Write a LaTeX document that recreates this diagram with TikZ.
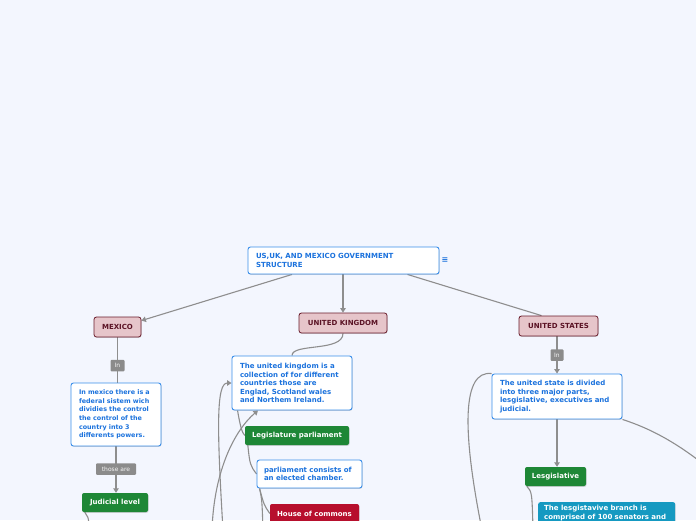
\documentclass[tikz,border=0pt]{standalone}
\usepackage{fontspec}
\setmainfont{DejaVu Sans}
\usetikzlibrary{arrows.meta,shadows}
\definecolor{bg}{HTML}{F3F6FE}
\definecolor{bluetxt}{HTML}{1B72DD}
\definecolor{blueline}{HTML}{3A8EEA}
\definecolor{pinkfill}{HTML}{E6C5CA}
\definecolor{pinkline}{HTML}{6A1C2C}
\definecolor{pinktxt}{HTML}{5A1224}
\definecolor{greenfill}{HTML}{1E8736}
\definecolor{redfill}{HTML}{B70F2D}
\definecolor{tealfill}{HTML}{1599C1}
\definecolor{labelgray}{HTML}{8B8B8B}
\definecolor{conngray}{HTML}{8E8E8E}
\pgfdeclarelayer{background}
\pgfsetlayers{background,main}
\begin{document}
\begin{tikzpicture}[x=1pt,y=-1pt,
  shad/.style={drop shadow={shadow xshift=0.5pt,shadow yshift=-0.8pt,opacity=0.25,fill=black!60}},
  desc/.style={shad,rounded corners=2.5pt,draw=blueline,line width=0.9pt,fill=white,text=bluetxt,
    font=\bfseries\fontsize{7}{8.6}\selectfont,align=left,inner xsep=8pt,inner ysep=0pt},
  country/.style={shad,rounded corners=2.5pt,draw=pinkline,line width=0.8pt,fill=pinkfill,text=pinktxt,
    font=\bfseries\fontsize{7}{8}\selectfont,inner sep=0pt,minimum height=20pt},
  topic/.style={shad,rounded corners=2pt,fill=greenfill,text=white,
    font=\bfseries\fontsize{7}{8}\selectfont,inner sep=0pt,minimum height=19pt},
  redbox/.style={topic,fill=redfill},
  tealbox/.style={shad,rounded corners=2pt,fill=tealfill,text=white,align=left,
    font=\bfseries\fontsize{7}{9}\selectfont,inner xsep=6pt,inner ysep=3pt},
  lbl/.style={fill=labelgray,text=white!92!gray,rounded corners=1pt,
    font=\fontsize{6}{7}\selectfont,inner sep=0pt,minimum height=11.5pt},
  conn/.style={draw=conngray,line width=1.1pt},
  tip/.style={-{Triangle[length=4.5pt,width=5.5pt]}}
]
\useasboundingbox (0,0) rectangle (696,520);
\begin{pgfonlayer}{background}
\fill[bg] (0,0) rectangle (696,520);
\end{pgfonlayer}

% nodes
\node[desc,text width=175pt,minimum height=27pt] (root) at (343.5,260.5)
  {US,UK, AND MEXICO GOVERNMENT\\STRUCTURE};
\node[text=bluetxt,font=\bfseries\fontsize{8}{8}\selectfont,inner sep=0pt] (icon) at (445,260) {≡};

\node[country,minimum width=47pt] (mex) at (117.5,327) {MEXICO};
\node[country,minimum width=88pt] (uk) at (343,323) {UNITED KINGDOM};
\node[country,minimum width=79pt] (us) at (558.5,326) {UNITED STATES};

\node[desc,text width=74pt,inner xsep=8pt,minimum height=63pt,
  font=\bfseries\fontsize{6.4}{8.6}\selectfont] (mexdesc) at (116,414.5)
  {In mexico there is a\\federal sistem wich\\dividies the control\\the control of the\\country into 3\\differents powers.};
\node[topic,minimum width=66pt] (judicial) at (115,502.5) {Judicial level};

\node[desc,text width=104pt,minimum height=54pt] (ukdesc) at (292,383)
  {The united kingdom is a\\collection of for different\\countries those are\\Englad, Scotland wales\\and Northem Ireland.};
\node[topic,minimum width=104pt] (legis) at (297,435.5) {Legislature parliament};
\node[desc,text width=91pt,inner xsep=7pt,minimum height=28pt] (parl) at (309.5,474)
  {parliament consists of\\an elected chamber.};
\node[redbox,minimum width=89pt] (house) at (314.5,513.5) {House of commons};

\node[desc,text width=114pt,minimum height=45pt] (usdesc) at (557,396.5)
  {The united state is divided\\into three major parts,\\lesgislative, executives and\\judicial.};
\node[topic,minimum width=61pt] (lesg) at (555.5,476.5) {Lesgislative};
\node[tealbox,text width=125pt,anchor=north west] (teal) at (538,502)
  {The lesgistavive branch is\\comprised of 100 senators and};

% free ends
\coordinate (usR) at (725,482);
\coordinate (usL) at (482,530);
\coordinate (lesgD) at (533,530);
\coordinate (judD) at (90,530);
\coordinate (ukA) at (223,530);
\coordinate (ukB) at (212,530);
\coordinate (parlD) at (263,530);

\begin{pgfonlayer}{background}
\draw[conn,tip] ([xshift=-51.5pt]root.south) -- ([yshift=-4pt]mex.north east);
\draw[conn,tip] (root.south -| uk.north) -- (uk.north);
\draw[conn] ([xshift=64pt]root.south) -- ([xshift=-17pt]us.north);
\draw[conn] (mex.south) -- (mex.south |- mexdesc.north);
\draw[conn,tip] (mexdesc.south) -- (mexdesc.south |- judicial.north);
\draw[conn] (uk.south) .. controls (343,352) and (292,343) .. (ukdesc.north);
\draw[conn,tip] ([xshift=-1.5pt]us.south) -- ([xshift=-1.5pt]us.south |- usdesc.north);
\draw[conn,tip] (usdesc.south) -- (usdesc.south |- lesg.north);
\draw[conn] (usdesc.south east) .. controls (655,430) and (685,447) .. (usR);
\draw[conn] (usdesc.north west) .. controls (462,370) and (462,430) .. (usL);
\draw[conn] ([xshift=2pt]lesg.south west) .. controls (532,492) .. (lesgD);
\draw[conn] ([xshift=3pt]judicial.south west) .. controls (88,516) .. (judD);
\draw[conn,tip] (ukA) .. controls (217,430) and (216,383) .. (ukdesc.west);
\draw[conn,tip] (ukB) .. controls (214,470) and (235,430) .. ([xshift=-34pt]ukdesc.south);
\draw[conn] ([xshift=6pt]ukdesc.south west) .. controls (240,425) and (242,433) .. (legis.west);
\draw[conn] ([xshift=3pt]legis.south west) .. controls (250,465) .. (parl.west);
\draw[conn] ([xshift=3pt]parl.south west) .. controls (264,505) .. (house.west);
\draw[conn] ([xshift=3pt]parl.south west) .. controls (262,500) .. (parlD);
\end{pgfonlayer}

% labels on connectors
\node[lbl,minimum width=14pt] (mexin) at (117.5,365.5) {In};
\node[lbl,minimum width=40pt] (thoseare) at (116,469) {those are};
\node[lbl,minimum width=13pt] (usin) at (557,355) {In};
\end{tikzpicture}
\end{document}
